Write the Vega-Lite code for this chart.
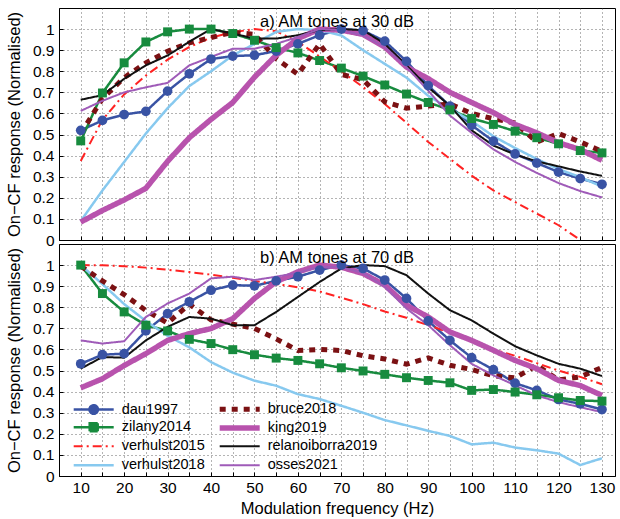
{
  "$schema": "https://vega.github.io/schema/vega-lite/v6.json",
  "padding": {"left": 5, "top": 7, "right": 4, "bottom": 3},
  "spacing": 4,
  "bounds": "flush",
  "config": {
    "font": "Liberation Sans",
    "view": {"stroke": "black", "strokeWidth": 1},
    "axis": {
      "domainColor": "black", "tickColor": "black", "labelColor": "black", "titleColor": "black",
      "labelFontSize": 15.5, "titleFontSize": 16.5, "titleFontWeight": "normal",
      "gridColor": "#444", "gridDash": [1, 3], "gridOpacity": 0.8, "tickSize": -4
    },
    "legend": {"orient": "none", "legendX": 26.7, "legendY": 157, "direction": "vertical", "columns": 2, "gridAlign": "all", "symbolSize": 100, "labelFontSize": 14.5, "labelOffset": 20, "columnPadding": -36, "rowPadding": -4.7, "padding": 0, "labelColor": "black"},
    "title": {"anchor": "middle", "fontSize": 16.5, "fontWeight": "normal", "color": "black", "baseline": "alphabetic", "offset": -22}
  },
  "datasets": {
    "a": [
      {"f":10,"dau1997":0.52,"zilany2014":0.47,"verhulst2015":0.375,"verhulst2018":0.09,"bruce2018":0.505,"king2019":0.085,"relanoiborra2019":0.665,"osses2021":0.612},
      {"f":15,"dau1997":0.567,"zilany2014":0.697,"verhulst2015":0.57,"verhulst2018":0.235,"bruce2018":0.67,"king2019":0.14,"relanoiborra2019":0.687,"osses2021":0.66},
      {"f":20,"dau1997":0.595,"zilany2014":0.84,"verhulst2015":0.69,"verhulst2018":0.37,"bruce2018":0.77,"king2019":0.19,"relanoiborra2019":0.764,"osses2021":0.70},
      {"f":25,"dau1997":0.61,"zilany2014":0.939,"verhulst2015":0.78,"verhulst2018":0.505,"bruce2018":0.84,"king2019":0.245,"relanoiborra2019":0.828,"osses2021":0.724},
      {"f":30,"dau1997":0.706,"zilany2014":0.987,"verhulst2015":0.855,"verhulst2018":0.625,"bruce2018":0.895,"king2019":0.373,"relanoiborra2019":0.875,"osses2021":0.745},
      {"f":35,"dau1997":0.788,"zilany2014":1.0,"verhulst2015":0.915,"verhulst2018":0.73,"bruce2018":0.935,"king2019":0.485,"relanoiborra2019":0.94,"osses2021":0.828},
      {"f":40,"dau1997":0.858,"zilany2014":1.0,"verhulst2015":0.96,"verhulst2018":0.80,"bruce2018":0.96,"king2019":0.572,"relanoiborra2019":1.0,"osses2021":0.868},
      {"f":45,"dau1997":0.872,"zilany2014":0.979,"verhulst2015":0.985,"verhulst2018":0.875,"bruce2018":0.985,"king2019":0.652,"relanoiborra2019":0.979,"osses2021":0.907},
      {"f":50,"dau1997":0.876,"zilany2014":0.947,"verhulst2015":1.0,"verhulst2018":0.93,"bruce2018":0.975,"king2019":0.772,"relanoiborra2019":0.955,"osses2021":0.907},
      {"f":55,"dau1997":0.896,"zilany2014":0.912,"verhulst2015":0.99,"verhulst2018":0.987,"bruce2018":0.86,"king2019":0.876,"relanoiborra2019":0.955,"osses2021":0.93},
      {"f":60,"dau1997":0.93,"zilany2014":0.887,"verhulst2015":0.94,"verhulst2018":1.0,"bruce2018":0.785,"king2019":0.955,"relanoiborra2019":0.971,"osses2021":0.963},
      {"f":65,"dau1997":0.971,"zilany2014":0.851,"verhulst2015":0.87,"verhulst2018":0.995,"bruce2018":0.93,"king2019":1.0,"relanoiborra2019":0.995,"osses2021":1.0},
      {"f":70,"dau1997":1.0,"zilany2014":0.815,"verhulst2015":0.80,"verhulst2018":0.97,"bruce2018":0.785,"king2019":0.995,"relanoiborra2019":1.0,"osses2021":0.995},
      {"f":75,"dau1997":0.993,"zilany2014":0.777,"verhulst2015":0.725,"verhulst2018":0.90,"bruce2018":0.76,"king2019":0.975,"relanoiborra2019":0.995,"osses2021":0.97},
      {"f":80,"dau1997":0.943,"zilany2014":0.735,"verhulst2015":0.645,"verhulst2018":0.835,"bruce2018":0.655,"king2019":0.915,"relanoiborra2019":0.93,"osses2021":0.915},
      {"f":85,"dau1997":0.847,"zilany2014":0.692,"verhulst2015":0.555,"verhulst2018":0.77,"bruce2018":0.625,"king2019":0.82,"relanoiborra2019":0.828,"osses2021":0.82},
      {"f":90,"dau1997":0.732,"zilany2014":0.652,"verhulst2015":0.465,"verhulst2018":0.684,"bruce2018":0.635,"king2019":0.765,"relanoiborra2019":0.724,"osses2021":0.708},
      {"f":95,"dau1997":0.635,"zilany2014":0.617,"verhulst2015":0.385,"verhulst2018":0.62,"bruce2018":0.645,"king2019":0.70,"relanoiborra2019":0.636,"osses2021":0.59},
      {"f":100,"dau1997":0.544,"zilany2014":0.576,"verhulst2015":0.305,"verhulst2018":0.564,"bruce2018":0.60,"king2019":0.652,"relanoiborra2019":0.52,"osses2021":0.508},
      {"f":105,"dau1997":0.469,"zilany2014":0.548,"verhulst2015":0.235,"verhulst2018":0.492,"bruce2018":0.575,"king2019":0.604,"relanoiborra2019":0.448,"osses2021":0.43},
      {"f":110,"dau1997":0.408,"zilany2014":0.516,"verhulst2015":0.18,"verhulst2018":0.436,"bruce2018":0.555,"king2019":0.548,"relanoiborra2019":0.405,"osses2021":0.37},
      {"f":115,"dau1997":0.365,"zilany2014":0.485,"verhulst2015":0.125,"verhulst2018":0.384,"bruce2018":0.465,"king2019":0.508,"relanoiborra2019":0.373,"osses2021":0.318},
      {"f":120,"dau1997":0.322,"zilany2014":0.456,"verhulst2015":0.07,"verhulst2018":0.336,"bruce2018":0.505,"king2019":0.461,"relanoiborra2019":0.349,"osses2021":0.27},
      {"f":125,"dau1997":0.291,"zilany2014":0.424,"verhulst2015":0.0,"verhulst2018":0.298,"bruce2018":0.465,"king2019":0.429,"relanoiborra2019":0.325,"osses2021":0.232},
      {"f":130,"dau1997":0.264,"zilany2014":0.413,"verhulst2015":null,"verhulst2018":0.253,"bruce2018":0.42,"king2019":0.378,"relanoiborra2019":0.304,"osses2021":0.202}
    ],
    "b": [
      {"f":10,"dau1997":0.532,"zilany2014":1.0,"verhulst2015":1.0,"verhulst2018":1.0,"bruce2018":0.995,"king2019":0.418,"relanoiborra2019":0.509,"osses2021":0.643},
      {"f":15,"dau1997":0.575,"zilany2014":0.865,"verhulst2015":0.999,"verhulst2018":0.91,"bruce2018":0.925,"king2019":0.461,"relanoiborra2019":0.564,"osses2021":0.628},
      {"f":20,"dau1997":0.58,"zilany2014":0.778,"verhulst2015":0.995,"verhulst2018":0.815,"bruce2018":0.86,"king2019":0.524,"relanoiborra2019":0.561,"osses2021":0.639},
      {"f":25,"dau1997":0.688,"zilany2014":0.715,"verhulst2015":0.988,"verhulst2018":0.735,"bruce2018":0.785,"king2019":0.58,"relanoiborra2019":0.643,"osses2021":0.754},
      {"f":30,"dau1997":0.77,"zilany2014":0.688,"verhulst2015":0.978,"verhulst2018":0.665,"bruce2018":0.725,"king2019":0.643,"relanoiborra2019":0.707,"osses2021":0.818},
      {"f":35,"dau1997":0.826,"zilany2014":0.648,"verhulst2015":0.967,"verhulst2018":0.61,"bruce2018":0.815,"king2019":0.675,"relanoiborra2019":0.754,"osses2021":0.865},
      {"f":40,"dau1997":0.881,"zilany2014":0.628,"verhulst2015":0.955,"verhulst2018":0.54,"bruce2018":0.74,"king2019":0.699,"relanoiborra2019":0.746,"osses2021":0.937},
      {"f":45,"dau1997":0.905,"zilany2014":0.599,"verhulst2015":0.94,"verhulst2018":0.49,"bruce2018":0.72,"king2019":0.746,"relanoiborra2019":0.715,"osses2021":0.945},
      {"f":50,"dau1997":0.902,"zilany2014":0.575,"verhulst2015":0.925,"verhulst2018":0.452,"bruce2018":0.70,"king2019":0.842,"relanoiborra2019":0.715,"osses2021":0.929},
      {"f":55,"dau1997":0.925,"zilany2014":0.559,"verhulst2015":0.91,"verhulst2018":0.428,"bruce2018":0.65,"king2019":0.921,"relanoiborra2019":0.778,"osses2021":0.945},
      {"f":60,"dau1997":0.945,"zilany2014":0.548,"verhulst2015":0.895,"verhulst2018":0.388,"bruce2018":0.595,"king2019":0.968,"relanoiborra2019":0.849,"osses2021":0.964},
      {"f":65,"dau1997":0.976,"zilany2014":0.532,"verhulst2015":0.875,"verhulst2018":0.365,"bruce2018":0.60,"king2019":1.0,"relanoiborra2019":0.92,"osses2021":0.992},
      {"f":70,"dau1997":1.0,"zilany2014":0.513,"verhulst2015":0.845,"verhulst2018":0.333,"bruce2018":0.595,"king2019":0.99,"relanoiborra2019":0.984,"osses2021":0.99},
      {"f":75,"dau1997":0.984,"zilany2014":0.498,"verhulst2015":0.815,"verhulst2018":0.30,"bruce2018":0.57,"king2019":0.96,"relanoiborra2019":1.0,"osses2021":0.963},
      {"f":80,"dau1997":0.929,"zilany2014":0.482,"verhulst2015":0.78,"verhulst2018":0.265,"bruce2018":0.555,"king2019":0.905,"relanoiborra2019":0.995,"osses2021":0.897},
      {"f":85,"dau1997":0.842,"zilany2014":0.466,"verhulst2015":0.75,"verhulst2018":0.24,"bruce2018":0.53,"king2019":0.81,"relanoiborra2019":0.952,"osses2021":0.794},
      {"f":90,"dau1997":0.735,"zilany2014":0.453,"verhulst2015":0.715,"verhulst2018":0.214,"bruce2018":0.56,"king2019":0.754,"relanoiborra2019":0.865,"osses2021":0.715},
      {"f":95,"dau1997":0.643,"zilany2014":0.442,"verhulst2015":0.68,"verhulst2018":0.19,"bruce2018":0.525,"king2019":0.683,"relanoiborra2019":0.786,"osses2021":0.62},
      {"f":100,"dau1997":0.561,"zilany2014":0.406,"verhulst2015":0.64,"verhulst2018":0.15,"bruce2018":0.505,"king2019":0.643,"relanoiborra2019":0.738,"osses2021":0.532},
      {"f":105,"dau1997":0.504,"zilany2014":0.41,"verhulst2015":0.60,"verhulst2018":0.158,"bruce2018":0.475,"king2019":0.596,"relanoiborra2019":0.675,"osses2021":0.477},
      {"f":110,"dau1997":0.44,"zilany2014":0.398,"verhulst2015":0.57,"verhulst2018":0.135,"bruce2018":0.465,"king2019":0.548,"relanoiborra2019":0.615,"osses2021":0.43},
      {"f":115,"dau1997":0.406,"zilany2014":0.385,"verhulst2015":0.535,"verhulst2018":0.122,"bruce2018":0.525,"king2019":0.509,"relanoiborra2019":0.572,"osses2021":0.382},
      {"f":120,"dau1997":0.363,"zilany2014":0.371,"verhulst2015":0.50,"verhulst2018":0.106,"bruce2018":0.455,"king2019":0.453,"relanoiborra2019":0.532,"osses2021":0.35},
      {"f":125,"dau1997":0.342,"zilany2014":0.358,"verhulst2015":0.47,"verhulst2018":0.052,"bruce2018":0.47,"king2019":0.429,"relanoiborra2019":0.509,"osses2021":0.326},
      {"f":130,"dau1997":0.315,"zilany2014":0.355,"verhulst2015":0.435,"verhulst2018":0.084,"bruce2018":0.515,"king2019":0.382,"relanoiborra2019":0.474,"osses2021":0.303}
    ]
  },
  "resolve": {
    "scale": {"color": "independent", "fill": "independent", "stroke": "independent", "shape": "independent", "strokeDash": "independent", "strokeWidth": "independent"},
    "legend": {"color": "independent", "fill": "independent", "stroke": "independent", "shape": "independent", "strokeDash": "independent", "strokeWidth": "independent"}
  },
  "vconcat": [
    {
      "width": 556, "height": 232,
      "data": {"name": "a"},
      "transform": [{"fold": ["dau1997","zilany2014","verhulst2015","verhulst2018","bruce2018","king2019","relanoiborra2019","osses2021"], "as": ["model","v"]}],
      "title": {"text": "a) AM tones at 30 dB"},
      "encoding": {
        "x": {"field": "f", "type": "quantitative", "scale": {"domain": [5, 133], "nice": false, "zero": false},
          "axis": {"values": [10,15,20,25,30,35,40,45,50,55,60,65,70,75,80,85,90,95,100,105,110,115,120,125,130], "labels": false, "title": null, "grid": true}},
        "y": {"field": "v", "type": "quantitative", "scale": {"domain": [0, 1.1], "nice": false, "zero": false},
          "axis": {"values": [0,0.1,0.2,0.3,0.4,0.5,0.6,0.7,0.8,0.9,1], "format": "~g", "title": "On−CF response (Normalised)", "grid": true, "titlePadding": 10, "labelPadding": 9}}
      },
      "layer": [
        {"mark": {"type": "line", "clip": true},
         "encoding": {
           "stroke": {"field": "model", "type": "nominal", "legend": null, "scale": {"domain": ["dau1997","zilany2014","verhulst2015","verhulst2018","bruce2018","king2019","relanoiborra2019","osses2021"], "range": ["#3953a4","#178b3e","#ff2222","#87c9ef","#7b1113","#b853ad","#111111","#9f5bb8"]}},
           "strokeDash": {"field": "model", "type": "nominal", "legend": null, "scale": {"domain": ["dau1997","zilany2014","verhulst2015","verhulst2018","bruce2018","king2019","relanoiborra2019","osses2021"], "range": [[1,0],[1,0],[9,4,2,4],[1,0],[6,6],[1,0],[1,0],[1,0]]}},
           "strokeWidth": {"field": "model", "type": "nominal", "legend": null, "scale": {"type": "ordinal", "domain": ["dau1997","zilany2014","verhulst2015","verhulst2018","bruce2018","king2019","relanoiborra2019","osses2021"], "range": [2.5,2.5,2,2.5,5,5.5,2,2]}}
         }},
        {"transform": [{"filter": "datum.model === 'dau1997'"}], "mark": {"type": "point", "shape": "circle", "filled": true, "size": 95, "color": "#3953a4", "opacity": 1}},
        {"transform": [{"filter": "datum.model === 'zilany2014'"}], "mark": {"type": "point", "shape": "square", "filled": true, "size": 80, "color": "#178b3e", "opacity": 1}}
      ]
    },
    {
      "width": 556, "height": 232,
      "data": {"name": "b"},
      "transform": [{"fold": ["dau1997","zilany2014","verhulst2015","verhulst2018","bruce2018","king2019","relanoiborra2019","osses2021"], "as": ["model","v"]}],
      "title": {"text": "b) AM tones at 70 dB"},
      "encoding": {
        "x": {"field": "f", "type": "quantitative", "scale": {"domain": [5, 133], "nice": false, "zero": false},
          "axis": {"values": [10,15,20,25,30,35,40,45,50,55,60,65,70,75,80,85,90,95,100,105,110,115,120,125,130], "labelExpr": "datum.value % 10 === 0 ? datum.label : ''", "title": "Modulation frequency (Hz)", "grid": true, "labelPadding": 8, "titlePadding": 5}},
        "y": {"field": "v", "type": "quantitative", "scale": {"domain": [0, 1.1], "nice": false, "zero": false},
          "axis": {"values": [0,0.1,0.2,0.3,0.4,0.5,0.6,0.7,0.8,0.9,1], "format": "~g", "title": "On−CF response (Normalised)", "grid": true, "titlePadding": 10, "labelPadding": 9}}
      },
      "resolve": {
        "scale": {"stroke": "independent", "strokeDash": "independent", "strokeWidth": "independent", "fill": "independent", "shape": "independent"},
        "legend": {"stroke": "independent", "strokeDash": "independent", "strokeWidth": "independent", "fill": "independent", "shape": "independent"}
      },
      "layer": [
        {"mark": {"type": "line", "clip": true},
         "encoding": {
           "stroke": {"field": "model", "type": "nominal", "legend": null, "scale": {"domain": ["dau1997","zilany2014","verhulst2015","verhulst2018","bruce2018","king2019","relanoiborra2019","osses2021"], "range": ["#3953a4","#178b3e","#ff2222","#87c9ef","#7b1113","#b853ad","#111111","#9f5bb8"]}},
           "strokeDash": {"field": "model", "type": "nominal", "legend": null, "scale": {"domain": ["dau1997","zilany2014","verhulst2015","verhulst2018","bruce2018","king2019","relanoiborra2019","osses2021"], "range": [[1,0],[1,0],[9,4,2,4],[1,0],[6,6],[1,0],[1,0],[1,0]]}},
           "strokeWidth": {"field": "model", "type": "nominal", "legend": null, "scale": {"type": "ordinal", "domain": ["dau1997","zilany2014","verhulst2015","verhulst2018","bruce2018","king2019","relanoiborra2019","osses2021"], "range": [2.5,2.5,2,2.5,5,5.5,2,2]}}
         }},
        {"transform": [{"filter": "datum.model === 'dau1997'"}], "mark": {"type": "point", "shape": "circle", "filled": true, "size": 95, "color": "#3953a4", "opacity": 1}},
        {"transform": [{"filter": "datum.model === 'zilany2014'"}], "mark": {"type": "point", "shape": "square", "filled": true, "size": 80, "color": "#178b3e", "opacity": 1}},
        {"transform": [{"filter": "false"}], "mark": {"type": "point", "filled": true, "opacity": 1},
         "encoding": {
           "fill": {"field": "model", "type": "nominal", "legend": {"title": null}, "scale": {"domain": ["dau1997","zilany2014","verhulst2015","verhulst2018","bruce2018","king2019","relanoiborra2019","osses2021"], "range": ["#3953a4","#178b3e","#ff2222","#87c9ef","#7b1113","#b853ad","#111111","#9f5bb8"]}},
           "stroke": {"field": "model", "type": "nominal", "legend": {"title": null}, "scale": {"domain": ["dau1997","zilany2014","verhulst2015","verhulst2018","bruce2018","king2019","relanoiborra2019","osses2021"], "range": ["#3953a4","#178b3e","#ff2222","#87c9ef","#7b1113","#b853ad","#111111","#9f5bb8"]}},
           "shape": {"field": "model", "type": "nominal", "legend": {"title": null}, "scale": {"domain": ["dau1997","zilany2014","verhulst2015","verhulst2018","bruce2018","king2019","relanoiborra2019","osses2021"], "range": ["M-4,0H4M0.85,0A0.85,0.85 0 1,1 -0.85,0A0.85,0.85 0 1,1 0.85,0Z","M-4,0H4M-0.8,-0.8H0.8V0.8H-0.8Z","M-4,0H4","M-4,0H4","M-4,0H4","M-4,0H4","M-4,0H4","M-4,0H4"]}},
           "strokeDash": {"field": "model", "type": "nominal", "legend": {"title": null}, "scale": {"domain": ["dau1997","zilany2014","verhulst2015","verhulst2018","bruce2018","king2019","relanoiborra2019","osses2021"], "range": [[1,0],[1,0],[9,4,2,4],[1,0],[6,6],[1,0],[1,0],[1,0]]}},
           "strokeWidth": {"field": "model", "type": "nominal", "legend": {"title": null}, "scale": {"type": "ordinal", "domain": ["dau1997","zilany2014","verhulst2015","verhulst2018","bruce2018","king2019","relanoiborra2019","osses2021"], "range": [2.5,2.5,2,2.5,5,5.5,2,2]}}
         }}
      ]
    }
  ]
}
